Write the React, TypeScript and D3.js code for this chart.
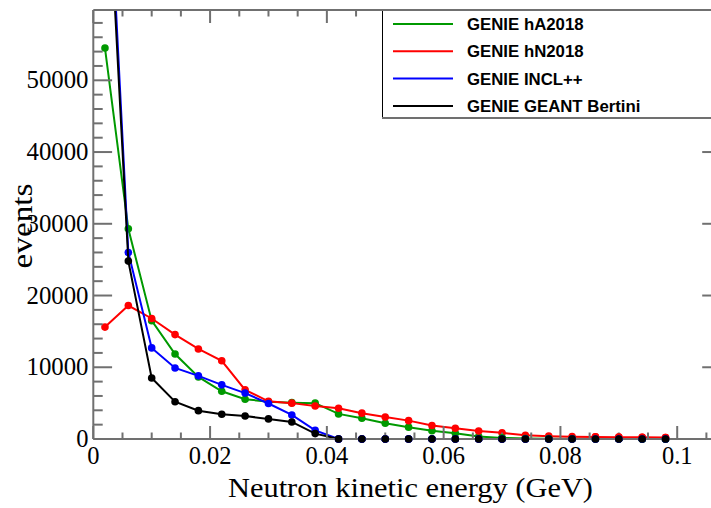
import React from "react";
import * as d3 from "d3";

const binCenters = [0.002, 0.006, 0.010, 0.014, 0.018, 0.022, 0.026, 0.030, 0.034, 0.038, 0.042, 0.046, 0.050, 0.054, 0.058, 0.062, 0.066, 0.070, 0.074, 0.078, 0.082, 0.086, 0.090, 0.094, 0.098];
const hA2018 = [54500, 29300, 16500, 11850, 8650, 6650, 5550, 5200, 5070, 5000, 3500, 2900, 2200, 1650, 1150, 790, 350, 150, 70, 50, 40, 30, 20, 15, 10];
const hN2018 = [15600, 18600, 16800, 14550, 12550, 10900, 6850, 5250, 5000, 4600, 4280, 3600, 3070, 2560, 1880, 1490, 1120, 860, 510, 400, 330, 290, 260, 240, 200];
const inclpp = [90000, 26000, 12700, 9900, 8800, 7550, 6400, 4950, 3350, 1200, 0, 0, 0, 0, 0, 0, 0, 0, 0, 0, 0, 0, 0, 0, 0];
const bertini = [86400, 24800, 8500, 5200, 3950, 3450, 3200, 2800, 2380, 750, 0, 0, 0, 0, 0, 0, 0, 0, 0, 0, 0, 0, 0, 0, 0];

const seriesNames = ["GENIE hA2018", "GENIE hN2018", "GENIE INCL++", "GENIE GEANT Bertini"];
const seriesColors = ["#009900", "#ff0000", "#0000ff", "#000000"];
const seriesValues = [hA2018, hN2018, inclpp, bertini];

const xMajorTicks = [0, 0.02, 0.04, 0.06, 0.08, 0.1];
const xTickLabels = ["0", "0.02", "0.04", "0.06", "0.08", "0.1"];
const yMajorTicks = [0, 10000, 20000, 30000, 40000, 50000];
const yTickLabels = ["0", "10000", "20000", "30000", "40000", "50000"];

const W = 711, H = 508;
const L = 93.3, R = 721, T = 10, B = 439;
const AX = "#707070";

export default function App() {
  const x = d3.scaleLinear().domain([0, 0.1075]).range([L, R]);
  const y = d3.scaleLinear().domain([0, 59800]).range([B, T]);
  const line = d3.line<[number, number]>().x(d => x(d[0])).y(d => y(d[1]));

  const xMinor = d3.range(0, 0.1075, 0.005);
  const yMinor = d3.range(0, 59800, 2000);
  const xTickLen = 13, xMinorLen = 6.5, yTickLen = 18.8, yMinorLen = 9.4;

  return (
    <svg width={W} height={H} style={{ position: "absolute", left: 0, top: 0, background: "#fff" }}>
      <defs>
        <clipPath id="plot"><rect x={L} y={T} width={R - L} height={B - T} /></clipPath>
        <clipPath id="marks"><rect x={L - 10} y={T} width={R - L + 20} height={B - T + 10} /></clipPath>
      </defs>
      <rect x={0} y={0} width={W} height={H} fill="#fff" />
      {seriesValues.map((vals, si) => {
        const pts: [number, number][] = binCenters.map((c, i) => [c, vals[i]]);
        return (
          <g key={si}>
            <path d={line(pts) || ""} fill="none" stroke={seriesColors[si]} strokeWidth={2} clipPath="url(#plot)" />
            <g clipPath="url(#marks)">
              {pts.map((p, i) => (
                <circle key={i} cx={x(p[0])} cy={y(p[1])} r={3.8} fill={seriesColors[si]} />
              ))}
            </g>
          </g>
        );
      })}
      <g stroke={AX} strokeWidth={2} fill="none">
        <line x1={L} y1={T} x2={R} y2={T} />
        <line x1={L} y1={B} x2={R} y2={B} />
        <line x1={L} y1={T} x2={L} y2={B} />
        <line x1={R} y1={T} x2={R} y2={B} />
        {xMinor.map((v, i) => {
          const isMajor = Math.abs(v / 0.02 - Math.round(v / 0.02)) < 1e-6;
          const len = isMajor ? xTickLen : xMinorLen;
          return (
            <g key={"xt" + i}>
              <line x1={x(v)} y1={B} x2={x(v)} y2={B - len} />
              <line x1={x(v)} y1={T} x2={x(v)} y2={T + len} />
            </g>
          );
        })}
        {yMinor.map((v, i) => {
          const isMajor = v % 10000 === 0;
          const len = isMajor ? yTickLen : yMinorLen;
          return (
            <g key={"yt" + i}>
              <line x1={L} y1={y(v)} x2={L + len} y2={y(v)} />
              <line x1={R} y1={y(v)} x2={R - len} y2={y(v)} />
            </g>
          );
        })}
      </g>
      {/* redraw markers lying on the axis so they sit above the frame line */}
      {seriesValues.map((vals, si) => (
        <g key={"m" + si}>
          {binCenters.map((c, i) => vals[i] < 300 ? (
            <circle key={i} cx={x(c)} cy={y(vals[i])} r={3.8} fill={seriesColors[si]} />
          ) : null)}
        </g>
      ))}
      <g fontFamily="'Liberation Serif', 'Times New Roman', serif" fontSize={24.5} fill="#000">
        {xMajorTicks.map((v, i) => (
          <text key={"xl" + i} x={x(v)} y={464} textAnchor="middle">{xTickLabels[i]}</text>
        ))}
        {yMajorTicks.map((v, i) => (
          <text key={"yl" + i} x={88.5} y={y(v) + 8} textAnchor="end" textLength={i === 0 ? undefined : 62} lengthAdjust="spacingAndGlyphs">{yTickLabels[i]}</text>
        ))}
      </g>
      <text x={410.5} y={497} textAnchor="middle" fontFamily="'Liberation Serif', 'Times New Roman', serif" fontSize={28}
        textLength={365} lengthAdjust="spacingAndGlyphs">
        Neutron kinetic energy (GeV)
      </text>
      <text transform={`translate(32, 226) rotate(-90)`} textAnchor="middle" fontFamily="'Liberation Serif', 'Times New Roman', serif" fontSize={30}
        textLength={85} lengthAdjust="spacingAndGlyphs">
        events
      </text>
      <g>
        <rect x={382} y={10} width={400} height={108} fill="#fff" stroke="none" />
        <line x1={382.5} y1={10} x2={382.5} y2={118} stroke="#000" strokeWidth={1} />
        <line x1={382} y1={118} x2={720} y2={118} stroke={AX} strokeWidth={2} />
        <line x1={382} y1={10} x2={720} y2={10} stroke={AX} strokeWidth={2} />
        {seriesNames.map((n, i) => {
          const ly = 24 + i * 27.3;
          return (
            <g key={"lg" + i}>
              <line x1={393} y1={ly} x2={453} y2={ly} stroke={seriesColors[i]} strokeWidth={2} />
              <text x={467} y={ly + 6} fontFamily="'Liberation Sans', Arial, sans-serif" fontWeight="bold" fontSize={16.8} fill="#000">{n}</text>
            </g>
          );
        })}
      </g>
    </svg>
  );
}
